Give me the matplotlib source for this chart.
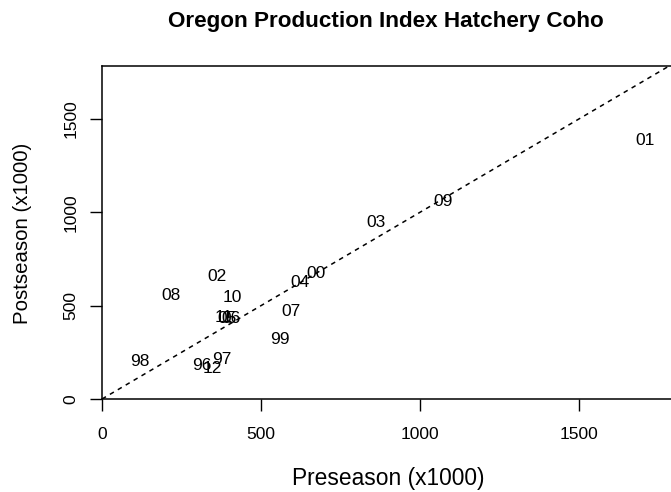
import matplotlib.pyplot as plt

# data (thousands of fish)
years = ["96", "97", "98", "99", "00", "01", "02", "03", "04", "05",
         "06", "07", "08", "09", "10", "11", "12"]
preseason = [314, 377, 119, 560, 673, 1708, 362, 862, 623, 395,
             405, 594, 217, 1072, 409, 384, 346]
postseason = [177, 214, 200, 321, 675, 1387, 659, 948, 627, 434,
              432, 471, 557, 1061, 546, 436, 161]

plt.rcParams["font.family"] = ["Liberation Sans", "DejaVu Sans"]

fig = plt.figure(figsize=(6.71, 4.92), dpi=100)
ax = fig.add_axes([0.152, 0.189, 0.8525, 0.677])

# year labels at each (pre, post) point
for yr, px, py in zip(years, preseason, postseason):
    ax.text(px, py, yr, ha="center", va="center", fontsize=12.5)

# 1:1 line
ax.plot([0, 1800], [0, 1800], color="black", linestyle=(0, (3, 3)), linewidth=1.1)

ax.set_xlim(0, 1800)
ax.set_ylim(0, 1785)
ax.set_xticks([0, 500, 1000, 1500])
ax.set_yticks([0, 500, 1000, 1500])
ax.tick_params(direction="out", length=8.3, width=1, labelsize=12.5)
ax.tick_params(axis="x", pad=11.5)
ax.tick_params(axis="y", pad=8.5)
plt.setp(ax.get_yticklabels(), rotation=90, va="center")
for s in ax.spines.values():
    s.set_linewidth(1.1)

fig.text(388 / 671, 1 - 478 / 492, "Preseason (x1000)", ha="center", va="center", fontsize=16.4)
fig.text(23 / 671, 1 - 233 / 492, "Postseason (x1000)", ha="center", va="center",
         rotation=90, fontsize=14.7)
fig.text(386 / 671, 1 - 21 / 492, "Oregon Production Index Hatchery Coho", ha="center",
         va="center", fontsize=16.2, fontweight="bold")

fig.savefig("out.png", dpi=100)
